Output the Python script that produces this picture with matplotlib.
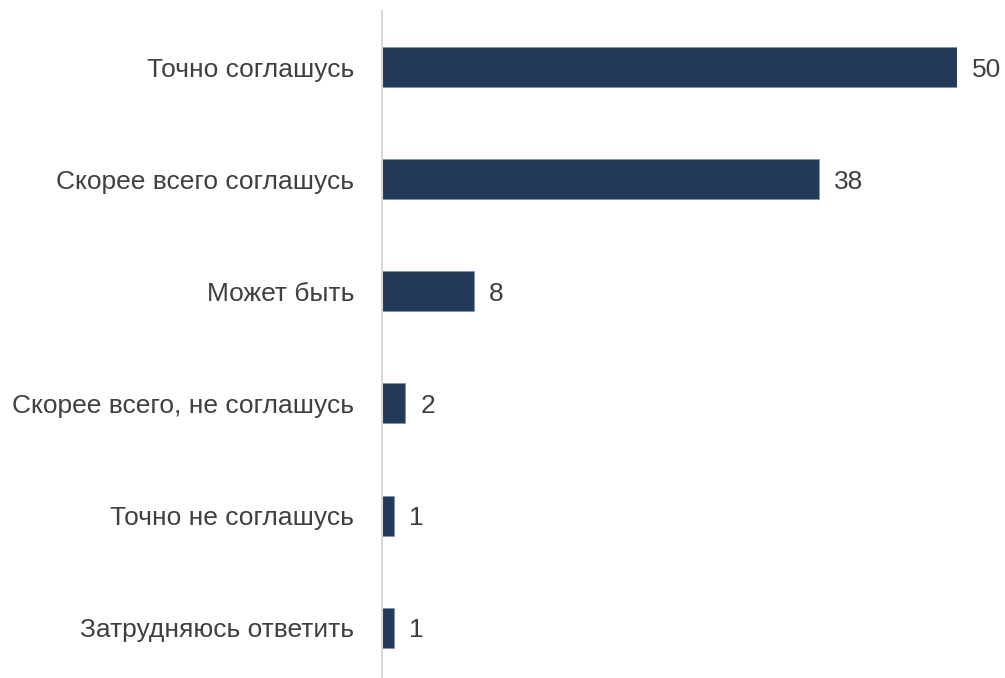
import matplotlib
matplotlib.use('Agg')
import matplotlib.pyplot as plt

# Data
categories = ['Точно соглашусь', 'Скорее всего соглашусь', 'Может быть',
              'Скорее всего, не соглашусь', 'Точно не соглашусь', 'Затрудняюсь ответить']
values = [50, 38, 8, 2, 1, 1]

plt.rcParams['font.family'] = ['Liberation Sans Narrow', 'Liberation Sans', 'DejaVu Sans']

fig = plt.figure(figsize=(10.05, 6.78), dpi=100)
ax = fig.add_axes([382 / 1005, 1 - 677 / 678, (957 - 382) / 1005, (677 - 11) / 678])

y = list(range(len(categories)))
ax.barh(y, values, height=0.357, color='#243A5A', edgecolor='#7f8ea5', linewidth=0.5)

ax.set_xlim(0, 50)
ax.set_ylim(5.44, -0.5)

for i, v in enumerate(values):
    ax.annotate(str(v), (v, i), xytext=(11, 0), textcoords='offset points',
                va='center_baseline', ha='left', fontsize=19, color='#404040',
                annotation_clip=False)

ax.set_yticks(y)
ax.set_yticklabels(categories, fontsize=19, color='#404040')
ax.tick_params(axis='y', length=0, pad=20)
ax.set_xticks([])

for s in ['top', 'right', 'bottom']:
    ax.spines[s].set_visible(False)
ax.spines['left'].set_color('#d9d9d9')
ax.spines['left'].set_linewidth(1.5)

fig.savefig('out.png', dpi=100)
